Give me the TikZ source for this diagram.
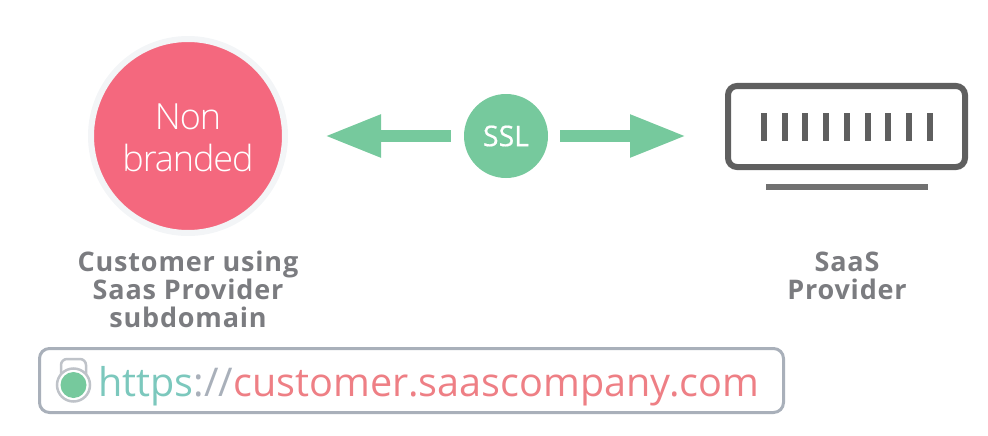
\documentclass[tikz,border=0pt]{standalone}
\usepackage{fontspec}
\setmainfont{Open Sans}
\newfontfamily\lightfont[LetterSpace=-3]{Open Sans Light}
\newfontfamily\semifont[FakeBold=0.5]{Open Sans}
\newfontfamily\capfont[LetterSpace=3]{Open Sans}
\usetikzlibrary{arrows.meta}
\definecolor{rosefill}{HTML}{F4687E}
\definecolor{ringgrey}{HTML}{F3F5F7}
\definecolor{sslgreen}{HTML}{76C99D}
\definecolor{screengrey}{HTML}{5F5F5F}
\definecolor{standgrey}{HTML}{717171}
\definecolor{capgrey}{HTML}{7B7C80}
\definecolor{boxgrey}{HTML}{A9B0BA}
\definecolor{urlteal}{HTML}{7CC8BD}
\definecolor{urlrose}{HTML}{EE7F85}
\definecolor{lockgrey}{HTML}{BFC3C9}
\tikzset{
  sslarrow/.style={sslgreen,line width=11.5,-{Triangle[length=56,width=40]}},
  caption/.style={text=capgrey,align=center,font=\capfont\bfseries\fontsize{27}{28}\selectfont},
}
\begin{document}
\begin{tikzpicture}[x=1pt,y=-1pt]
  \useasboundingbox (0,0) rectangle (988,436);
  % left circle
  \node (customer) at (188,136) [circle,fill=rosefill,draw=ringgrey,line width=6,
    minimum size=194,inner sep=0] {};
  \node (customertext) at (188,138) [text=white,align=center,
    font=\lightfont\fontsize{36}{42}\selectfont] {Non\\branded};
  \node (customerlabel) at (188,289.5) [caption] {Customer using\\Saas Provider\\subdomain};
  % ssl and arrows
  \node (ssl) at (506,136) [circle,fill=sslgreen,minimum size=84,inner sep=0,text=white,
    font=\semifont\fontsize{28.5}{30}\selectfont] {SSL};
  \coordinate (lefttip) at (325,136);
  \coordinate (righttip) at (686,136);
  \draw[sslarrow,shorten <=13] (ssl.west) -- (lefttip);
  \draw[sslarrow,shorten <=12] (ssl.east) -- (righttip);
  % provider
  \node (screen) at (846.5,126.5) [draw=screengrey,line width=6,rounded corners=9,
    minimum width=237,minimum height=81,inner sep=0] {};
  \foreach \i in {0,...,8}
    \fill[screengrey] (761+20.7*\i,113) rectangle +(6,28);
  \fill[standgrey] (766,183.5) rectangle (928,189.5);
  \node (providerlabel) at (847,275.5) [caption] {SaaS\\Provider};
  % address bar
  \node (urlbox) at (411.5,380.5) [draw=boxgrey,line width=3,rounded corners=10,
    minimum width=744,minimum height=64,inner sep=0] {};
  \draw[lockgrey,line width=2.5,rounded corners=6] (61,375) -- (61,359) -- (86,359) -- (86,375);
  \node (lock) at (73.5,385) [circle,draw=lockgrey,fill=white,line width=2.5,
    minimum size=33,inner sep=0] {};
  \node (lockdot) at (lock) [circle,fill=sslgreen,minimum size=26,inner sep=0] {};
  \node (url) at (98,396) [anchor=base west,inner sep=0,font=\fontsize{39.6}{44}\selectfont]
    {\textcolor{urlteal}{https}\textcolor{boxgrey}{://}\textcolor{urlrose}{customer.saascompany.com}};
\end{tikzpicture}
\end{document}
